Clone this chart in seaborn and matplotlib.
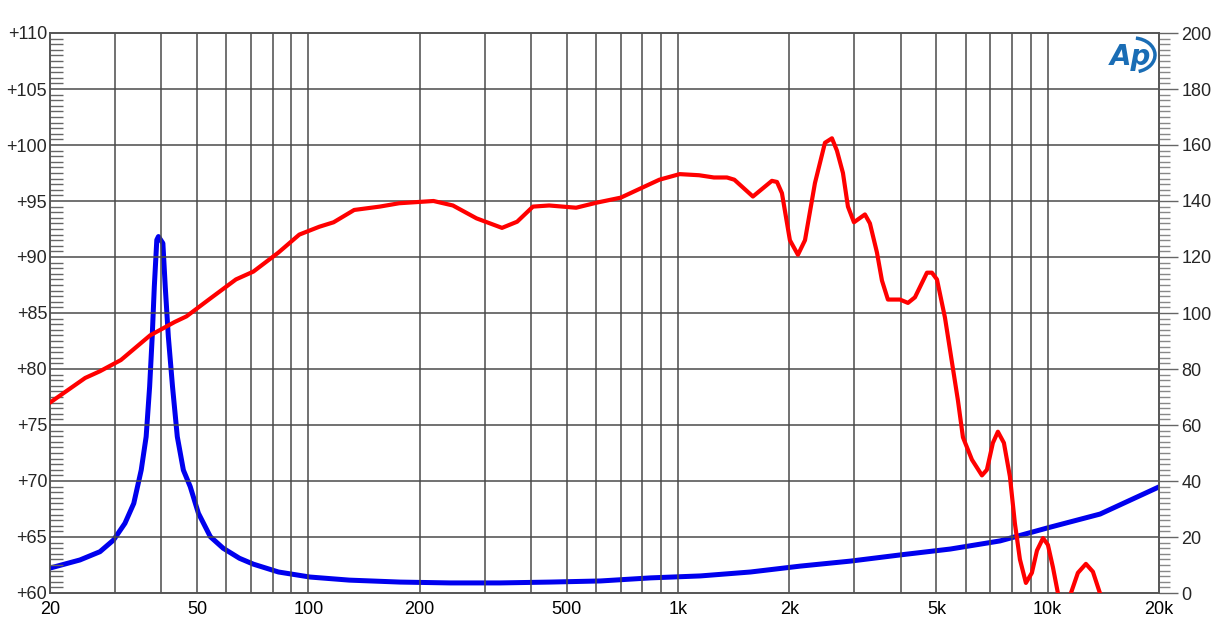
import numpy as np
import pandas as pd
import matplotlib
matplotlib.use("Agg")
import matplotlib.pyplot as plt
from matplotlib.patches import Arc
from matplotlib.ticker import FixedLocator, MultipleLocator, NullFormatter
import seaborn as sns

# ---- data ----
spl_freq = [20, 24.9, 27.3, 31.1, 37.3, 43.5, 46.8, 54.3, 63.7, 71, 83, 94.5, 107, 117, 133, 156,
            176, 218, 246, 285, 334, 367, 405, 448, 530, 602, 700, 789, 890, 1010, 1140,
            1250, 1356, 1420, 1594, 1794, 1852, 1910, 2007, 2110, 2205, 2346, 2497, 2608,
            2690, 2793, 2881, 2991, 3203, 3304, 3452, 3561, 3696, 3984, 4187, 4373, 4713,
            4861, 5016, 5272, 5716, 5898, 6238, 6638, 6846, 7106, 7332, 7612, 7902, 8152,
            8410, 8730, 9060, 9354, 9712, 10012, 10330, 10654, 11000, 11300, 11558, 12068,
            12686, 13250, 13840, 14300]
spl_db = [77.0, 79.2, 79.8, 80.8, 83.0, 84.2, 84.7, 86.3, 88.0, 88.7, 90.4, 92.0, 92.7, 93.1, 94.2, 94.5,
          94.8, 95.0, 94.6, 93.45, 92.6, 93.15, 94.5, 94.6, 94.4, 94.85, 95.3, 96.1, 96.9, 97.4, 97.3,
          97.1, 97.1, 96.9, 95.4, 96.8, 96.7, 95.7, 91.5, 90.2, 91.5, 96.6, 100.2, 100.6,
          99.5, 97.5, 94.5, 93.1, 93.8, 93.0, 90.4, 87.9, 86.2, 86.2, 85.9, 86.4, 88.6,
          88.6, 88.0, 84.6, 77.2, 73.9, 71.9, 70.5, 71.0, 73.4, 74.4, 73.4, 70.4, 66.2,
          63.0, 60.9, 61.8, 63.8, 64.9, 64.3, 62.3, 60.0, 58.6, 58.6, 60.0, 61.8,
          62.6, 61.9, 60.0, 58.5]

imp_freq = [20, 24.1, 27.3, 29.7, 31.9, 33.7, 35.3, 36.4, 37.2, 37.8, 38.3, 38.9, 39.3, 40.4,
            41.0, 41.8, 42.9, 44.2, 45.9, 47.9, 50.4, 54.3, 58.8, 65.1, 71, 83, 101, 129, 177,
            242, 330, 450, 617, 843, 1150, 1570, 2140, 2930, 3990, 5450, 7430, 10150, 13860, 20000]
imp_ohm = [8.9, 11.8, 14.75, 18.9, 24.9, 32.0, 43.9, 55.8, 73.7, 91.5, 109.4, 126.1, 127.3, 124.9,
           109.4, 91.5, 73.7, 55.8, 43.9, 38.0, 28.5, 20.1, 16.0, 12.4, 10.3, 7.5, 5.7, 4.6, 3.9,
           3.6, 3.6, 3.9, 4.3, 5.4, 6.1, 7.5, 9.6, 11.4, 13.6, 15.7, 18.6, 23.5, 28.2, 37.9]

x_ticks = [20, 50, 100, 200, 500, 1000, 2000, 5000, 10000, 20000]
x_labels = ["20", "50", "100", "200", "500", "1k", "2k", "5k", "10k", "20k"]
left_ticks = [60, 65, 70, 75, 80, 85, 90, 95, 100, 105, 110]
left_labels = ["+60", "+65", "+70", "+75", "+80", "+85", "+90", "+95", "+100", "+105", "+110"]
right_ticks = [0, 20, 40, 60, 80, 100, 120, 140, 160, 180, 200]

spl_df = pd.DataFrame({"freq": spl_freq, "db": spl_db})
imp_df = pd.DataFrame({"freq": imp_freq, "ohm": imp_ohm})

# ---- figure ----
sns.set_style("white")
plt.rcParams["font.family"] = ["Liberation Sans", "DejaVu Sans"]

W, H = 1214, 623
fig = plt.figure(figsize=(W / 100, H / 100), dpi=100)
ax = fig.add_axes([50 / W, 30 / H, 1109 / W, 560 / H])
ax2 = ax.twinx()

grid_c = "#4a4a4a"
ax.set_xscale("log")
ax.set_xlim(20, 20000)
ax.set_ylim(60, 110)
ax2.set_ylim(0, 200)

# vertical grid at every decade step
vgrid = [f * 10 ** d for d in range(1, 5) for f in range(1, 10)]
vgrid = [v for v in vgrid if 20 < v < 20000]
for v in vgrid:
    ax.axvline(v, color=grid_c, lw=1.1, zorder=0)
for t in left_ticks[1:-1]:
    ax.axhline(t, color=grid_c, lw=1.1, zorder=0)

ax.set_xticks(x_ticks)
ax.set_xticklabels(x_labels)
ax.xaxis.set_minor_locator(FixedLocator([]))
ax.xaxis.set_minor_formatter(NullFormatter())
ax.tick_params(axis="x", which="both", length=0, labelsize=13, pad=6, colors="black")

ax.set_yticks(left_ticks)
ax.set_yticklabels(left_labels)
ax.yaxis.set_minor_locator(MultipleLocator(0.5))
ax.tick_params(axis="y", which="major", length=0, labelsize=13, pad=2)
ax.tick_params(axis="y", which="minor", direction="in", length=9, width=1, color="#666666")

ax2.set_yticks(right_ticks)
ax2.yaxis.set_minor_locator(MultipleLocator(2))
ax2.tick_params(axis="y", which="major", direction="out", length=14, width=1,
                color="#666666", labelsize=13, pad=2)
ax2.tick_params(axis="y", which="minor", direction="out", length=8, width=1, color="#888888")

for a in (ax, ax2):
    for s in a.spines.values():
        s.set_color("#555555")
        s.set_linewidth(1.2)

sns.lineplot(data=imp_df, x="freq", y="ohm", ax=ax2, color="#0000ee", lw=3.6,
             solid_joinstyle="round", solid_capstyle="round", zorder=3)
sns.lineplot(data=spl_df, x="freq", y="db", ax=ax, color="#ff0000", lw=3.0,
             solid_joinstyle="round", solid_capstyle="round", zorder=3)
ax.set_zorder(ax2.get_zorder() + 1)
ax.patch.set_visible(False)

for a in (ax, ax2):
    a.set_xlabel("")
    a.set_ylabel("")

# AP logo
logo_c = "#1a6db5"
fig.text(1130 / W, 1 - 57 / H, "Ap", color=logo_c, fontsize=20, fontweight="bold",
         style="italic", ha="center", va="center", family="DejaVu Sans")
arc = Arc((1133 / W, 1 - 55 / H), 44 / W, 34 / H, angle=0, theta1=-80, theta2=85,
          transform=fig.transFigure, color=logo_c, lw=2.5)
fig.add_artist(arc)

fig.savefig("out.png", dpi=100)
